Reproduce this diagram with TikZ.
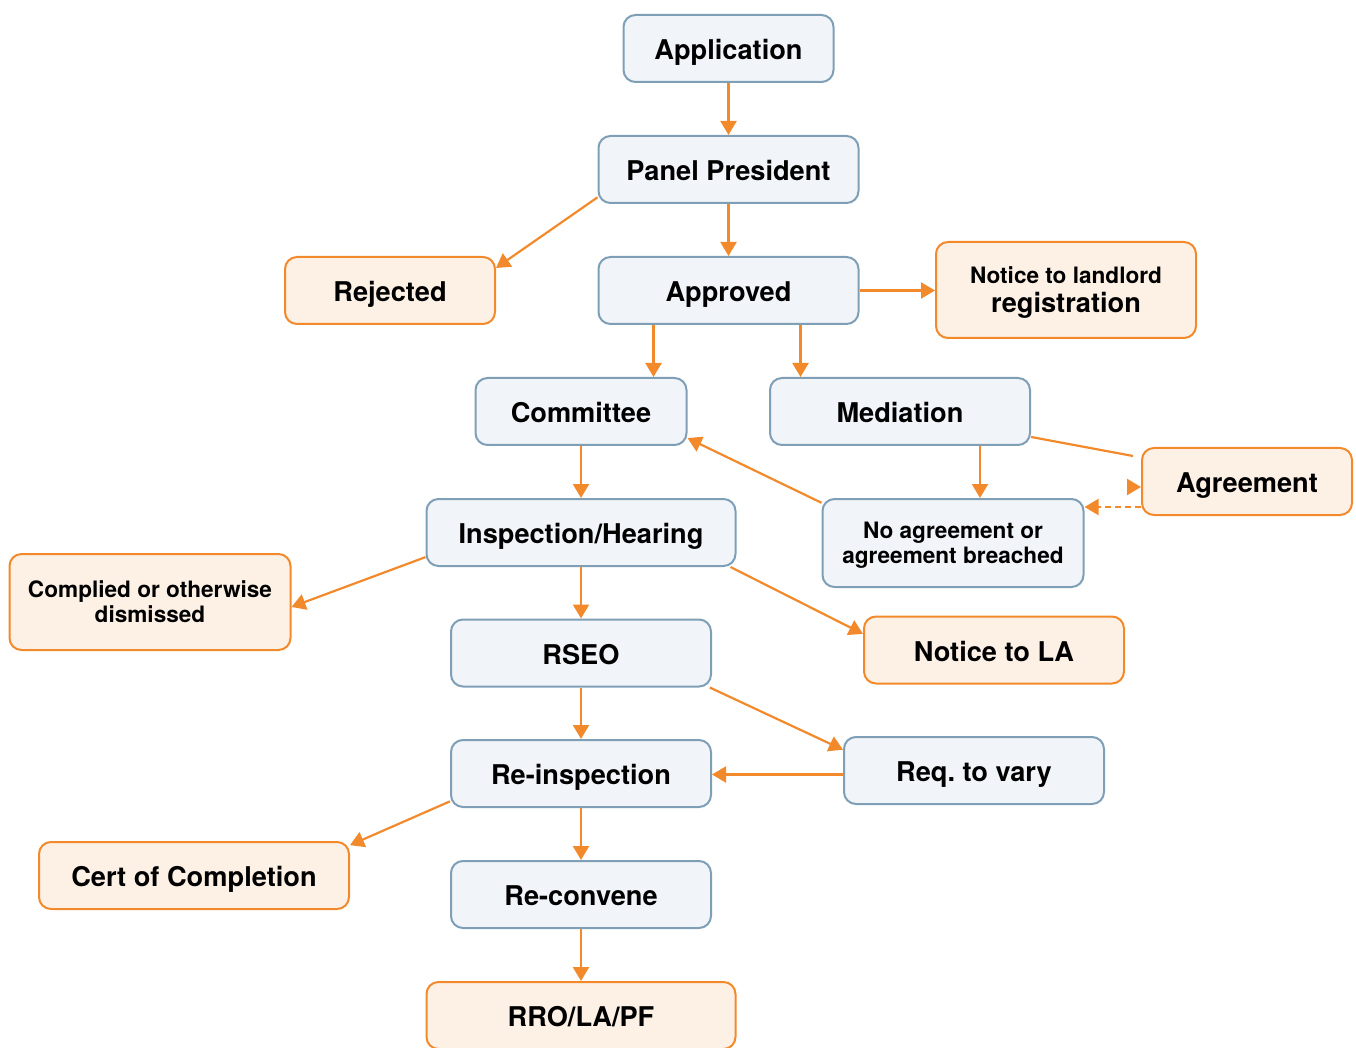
\documentclass[tikz,border=0pt]{standalone}
\usepackage{fontspec}
\setmainfont{TeX Gyre Heros}
\usetikzlibrary{arrows.meta}
\definecolor{box-blue}{RGB}{241,245,249}
\definecolor{line-blue}{RGB}{127,159,183}
\definecolor{box-orange}{RGB}{253,241,230}
\definecolor{line-orange}{RGB}{242,138,44}
\tikzset{
  stage/.style={draw=line-blue, fill=box-blue, line width=1pt, rounded corners=6pt,
    minimum width=130pt, minimum height=33.5pt, inner sep=0pt, align=center,
    text height=11pt, text depth=0pt,
    font=\fontsize{13.6}{14.5}\selectfont\bfseries},
  outcome/.style={stage, draw=line-orange, fill=box-orange},
  twolines/.style={text height=, text depth=#1},
  smalltext/.style={font=\fontsize{11.3}{12.5}\selectfont\bfseries},
  arr/.style={draw=line-orange, line width=1.1pt, -{Triangle[width=8pt,length=7pt]}},
  plain/.style={draw=line-orange, line width=1.1pt},
}
\begin{document}
\begin{tikzpicture}[x=0.5pt,y=-0.5pt]
\useasboundingbox (0,0) rectangle (1356,1048);

\node[stage, minimum width=105pt] (app) at (728.5,48.5) {Application};
\node[stage] (panel) at (728.5,169.5) {Panel President};
\node[outcome, minimum width=105pt] (rej) at (390,290.5) {Rejected};
\node[stage] (appr) at (728.5,290.5) {Approved};
\node[outcome, twolines=-6pt, minimum height=48pt] (notice) at (1066,290) {{\fontsize{11.3}{14.5}\selectfont Notice to landlord}\\registration};
\node[stage, minimum width=105.5pt] (comm) at (581,411.5) {Committee};
\node[stage] (med) at (900,411.5) {Mediation};
\node[outcome, minimum width=105pt] (agr) at (1247,481.5) {Agreement};
\node[stage, minimum width=154.5pt] (insp) at (581,532.5) {Inspection/Hearing};
\node[stage, smalltext, twolines=-3pt, minimum width=130.5pt, minimum height=44pt] (noag) at (953,543) {No agreement or\\agreement breached};
\node[outcome, smalltext, twolines=-2pt, minimum width=140.5pt, minimum height=48pt] (comp) at (150,602) {Complied or otherwise\\dismissed};
\node[stage] (rseo) at (581,653) {RSEO};
\node[outcome] (nla) at (994,650) {Notice to LA};
\node[stage] (reinsp) at (581,773.5) {Re-inspection};
\node[stage] (req) at (974,770.5) {Req.\ to vary};
\node[outcome, minimum width=155pt] (cert) at (194,875.5) {Cert of Completion};
\node[stage] (reconv) at (581,894.5) {Re-convene};
\node[outcome, minimum width=154.5pt] (rro) at (581,1015.5) {RRO/LA/PF};
\coordinate (agrbend) at (1133,456);

\draw[arr] (app) -- (panel);
\draw[arr] (panel) -- (appr);
\draw[arr] (panel.192) -- (rej.12);
\draw[arr] (appr.east) -- (appr.east -| notice.west);
\draw[arr] ([xshift=-37.5pt]appr.south) -- ([xshift=-37.5pt]appr.south |- comm.north);
\draw[arr] ([xshift=36pt]appr.south) -- ([xshift=36pt]appr.south |- med.north);
\draw[plain] (med.349) -- (agrbend);
\draw[arr] ([xshift=-7pt,yshift=-2.75pt]agr.west) -- ([yshift=-2.75pt]agr.west);
\draw[arr, dash pattern=on 3pt off 2pt] ([yshift=-12.75pt]agr.west) -- ([yshift=-12.75pt]agr.west -| noag.east);
\draw[arr] ([xshift=40pt]med.south) -- ([xshift=40pt]med.south |- noag.north);
\draw[arr] (noag.163) -- (comm.346);
\draw[arr] (comm) -- (insp);
\draw[arr] (insp.189) -- (comp.358);
\draw[arr] (insp.347) -- (nla.173);
\draw[arr] (insp) -- (rseo);
\draw[arr] (rseo.345) -- (req.171);
\draw[arr] (rseo) -- (reinsp);
\draw[arr] ([yshift=-2pt]req.west) -- ([yshift=-2pt]req.west -| reinsp.east);
\draw[arr] (reinsp.192) -- (cert.11);
\draw[arr] (reinsp) -- (reconv);
\draw[arr] (reconv) -- (rro);
\end{tikzpicture}
\end{document}
